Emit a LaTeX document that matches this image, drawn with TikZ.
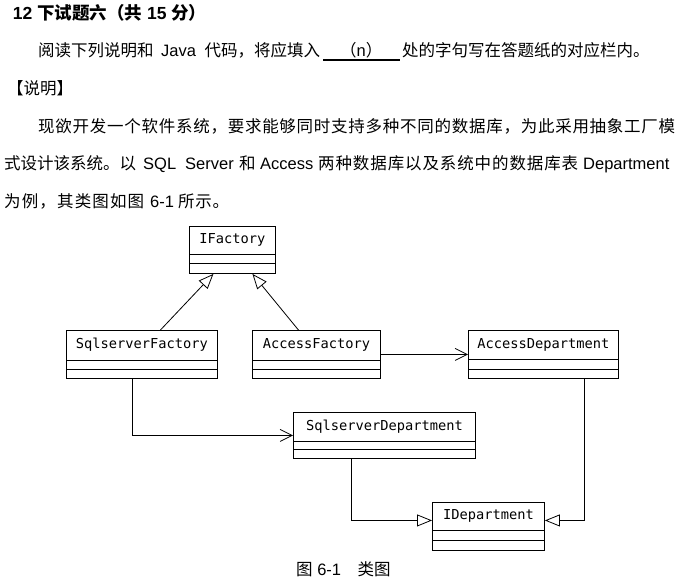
\documentclass[tikz,border=0pt]{standalone}
\usepackage{fontspec}
\setmainfont{Liberation Sans}
\newfontfamily\zh{Noto Sans CJK SC}
\newfontfamily\monof{DejaVu Sans Mono}
\usetikzlibrary{arrows.meta,calc}
\makeatletter
\newcommand\spreadto[2]{\hbox to #1{\@tfor\sp@c:=#2\do{\sp@c\hfil}\unskip}}
\makeatother
\tikzset{
  txt/.style={inner sep=0pt, anchor=base west, font=\fontsize{16.5}{20}\selectfont},
  classbox/.style={draw, line width=0.9pt, anchor=north west, inner sep=0pt},
  boxline/.style={line width=0.9pt},
  clstext/.style={inner sep=0pt, font=\fontsize{13.7}{16}\selectfont\monof},
  gen/.style={line width=0.8pt, -{Triangle[open, length=15pt, width=12pt]}},
  dep/.style={line width=0.8pt, -{Straight Barb[length=12pt, width=12pt]}}
}
\newcommand\umlclass[8]{%
  \node[classbox, minimum width=#4pt, minimum height=#5pt] (#1) at (#2,#3) {};
  \draw[boxline] ([yshift=-#6pt]#1.north west) -- ([yshift=-#6pt]#1.north east);
  \draw[boxline] ([yshift=-#7pt]#1.north west) -- ([yshift=-#7pt]#1.north east);
  \node[clstext] (#1-t) at ($(#1.north)+(0,#6/2)$) {#8};
}
\begin{document}
\begin{tikzpicture}[x=1pt,y=-1pt]
\fill[white] (0,0) rectangle (682,583);
\useasboundingbox (0,0) rectangle (682,583);

% text
\node[txt, font=\fontsize{17.5}{20}\selectfont\bfseries] (title) at (12.7,20) {12 {\zh 下试题六（共} 15 {\zh 分）}};
\node[txt] (l2a) at (38,57) {\zh 阅读下列说明和};
\node[txt] (l2b) at (161,57) {Java};
\node[txt] (l2c) at (204.5,57) {\zh 代码，将应填入};
\node[txt] (l2d) at (340,57) {{\zh （}n{\zh ）}};
\draw[line width=1.2pt] (323,60) -- (400,60);
\node[txt] (l2e) at (402,57) {\zh 处的字句写在答题纸的对应栏内。};
\node[txt] (l3) at (7,94.5) {\zh 【说明】};
\node[txt] (l4) at (38,132) {\zh\spreadto{637pt}{现欲开发一个软件系统，要求能够同时支持多种不同的数据库，为此采用抽象工厂模}};
\node[txt] (l5a) at (4,169.5) {\zh 式设计该系统。以};
\node[txt] (l5b) at (143,169.5) {SQL};
\node[txt] (l5c) at (185,169.5) {Server};
\node[txt] (l5d) at (239,169.5) {\zh 和};
\node[txt] (l5e) at (260,169.5) {Access};
\node[txt] (l5f) at (318,169.5) {\zh\spreadto{260pt}{两种数据库以及系统中的数据库表}};
\node[txt] (l5g) at (583,169.5) {Department};
\node[txt] (l6a) at (4,207) {\zh\spreadto{140pt}{为例，其类图如图}};
\node[txt] (l6b) at (150,207) {6-1};
\node[txt] (l6c) at (178,207) {\zh\spreadto{51pt}{所示。}};
\node[txt] (cap) at (296,575) {{\zh 图} 6-1{\zh 　类图}};

% classes
\umlclass{IF}{189}{226}{86}{47}{28}{37}{IFactory}
\umlclass{SF}{66}{330}{151}{48}{30}{39}{SqlserverFactory}
\umlclass{AF}{252}{330}{128}{48}{30}{39}{AccessFactory}
\umlclass{AD}{468}{330}{150}{48}{29}{39}{AccessDepartment}
\umlclass{SD}{293}{412}{182}{46}{29}{37}{SqlserverDepartment}
\umlclass{ID}{432}{502}{112}{48}{28}{38}{IDepartment}

% connectors
\draw[gen] ([xshift=18.5pt]SF.north) -- ([xshift=-19pt]IF.south);
\draw[gen] ([xshift=-18pt]AF.north) -- ([xshift=20pt]IF.south);
\draw[dep] (AF.east) -- (AF.east -| AD.west);
\draw[dep] ([xshift=-10pt]SF.south) |- (SD.west);
\draw[gen] ([xshift=-33pt]SD.south) |- ([yshift=6pt]ID.west);
\draw[gen] ([xshift=41pt]AD.south) |- ([yshift=6pt]ID.east);
\end{tikzpicture}
\end{document}
